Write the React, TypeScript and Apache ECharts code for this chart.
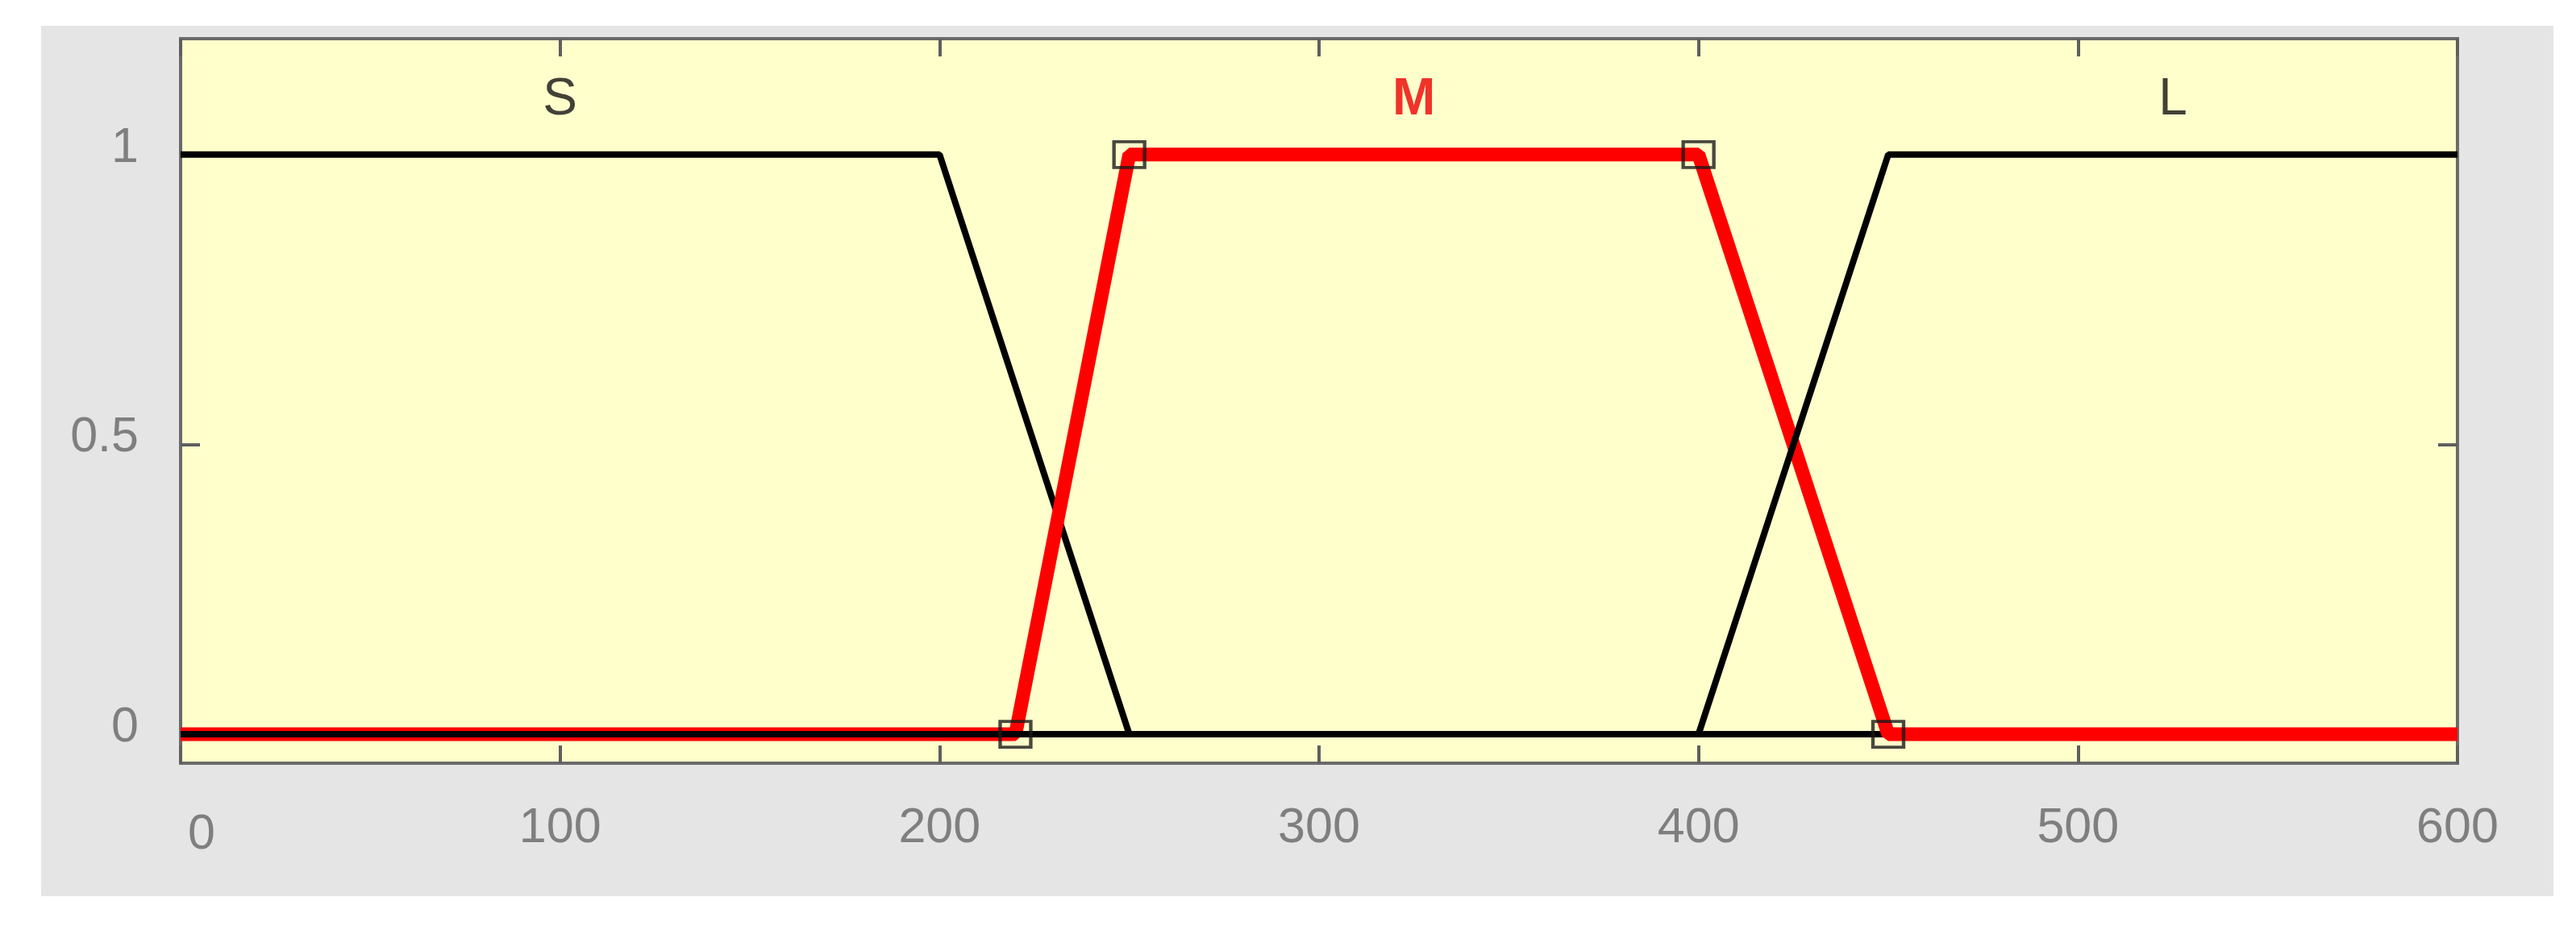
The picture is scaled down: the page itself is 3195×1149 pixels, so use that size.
import React, { useEffect, useRef } from "react";
import * as echarts from "echarts";

// Membership functions (x, membership degree)
const sX = [0, 200, 250, 600];
const sY = [1, 1, 0, 0];
const mX = [0, 220, 250, 400, 450, 600];
const mY = [0, 0, 1, 1, 0, 0];
const lX = [0, 400, 450, 600];
const lY = [0, 0, 1, 1];

const mfNames = ["S", "M", "L"];
const mfLabelX = [100, 325, 525];
const mfLabelY = [1.1, 1.1, 1.1];
const mfLabelColors = ["#111111", "#ee0000", "#111111"];

const yTicks = [0, 0.5, 1];

const W = 3195;
const H = 1149;

const zip = (xs: number[], ys: number[]) => xs.map((x, i) => [x, ys[i]]);

export default function App() {
  const ref = useRef<HTMLDivElement>(null);

  useEffect(() => {
    if (!ref.current) return;
    const chart = echarts.init(ref.current, null, { renderer: "svg", width: W, height: H });
    const font = "'Liberation Sans', Arial, Helvetica, sans-serif";
    const labelColor = "#7f7f7f";
    const tickStyle = { color: "#5f5f5f", width: 4 };

    const mPts = zip(mX, mY);
    const markerPts = mPts.slice(1, mPts.length - 1);

    chart.setOption({
      animation: false,
      backgroundColor: "transparent",
      textStyle: { fontFamily: font },
      grid: {
        left: 224,
        top: 48,
        right: W - 3048,
        bottom: H - 947,
        show: true,
        backgroundColor: "#ffffcc",
        borderColor: "#6a6a6a",
        borderWidth: 4,
        containLabel: false,
      },
      xAxis: [
        {
          type: "value",
          position: "bottom",
          min: 0,
          max: 600,
          interval: 100,
          axisLine: { show: false, onZero: false },
          splitLine: { show: false },
          axisTick: { show: true, inside: true, length: 22, lineStyle: tickStyle },
          axisLabel: {
            show: true,
            margin: 46,
            fontSize: 61,
            lineHeight: 61,
            color: labelColor,
            fontFamily: font,
            showMinLabel: true,
            showMaxLabel: true,
            formatter: (v: number) => (v === 0 ? "{z|0}" : String(v)),
            rich: {
              z: {
                fontSize: 61,
                lineHeight: 61,
                color: labelColor,
                fontFamily: font,
                padding: [16, 0, 0, 52],
              },
            },
          },
        },
        {
          type: "value",
          position: "top",
          min: 0,
          max: 600,
          interval: 100,
          axisLine: { show: false, onZero: false },
          splitLine: { show: false },
          axisTick: { show: true, inside: true, length: 22, lineStyle: tickStyle },
          axisLabel: { show: false },
        },
      ],
      yAxis: [
        {
          type: "value",
          position: "left",
          min: -0.05,
          max: 1.2,
          axisLine: { show: false, onZero: false },
          splitLine: { show: false },
          axisTick: { show: true, inside: true, length: 24, lineStyle: tickStyle, customValues: yTicks },
          axisLabel: {
            show: true,
            customValues: yTicks,
            margin: 52,
            fontSize: 61,
            color: labelColor,
            fontFamily: font,
            formatter: (v: number) => "{a|" + String(v) + "}",
            rich: {
              a: {
                fontSize: 61,
                lineHeight: 61,
                color: labelColor,
                fontFamily: font,
                padding: [0, 0, 24, 0],
              },
            },
          },
        },
        {
          type: "value",
          position: "right",
          min: -0.05,
          max: 1.2,
          axisLine: { show: false, onZero: false },
          splitLine: { show: false },
          axisTick: { show: true, inside: true, length: 24, lineStyle: tickStyle, customValues: yTicks },
          axisLabel: { show: false },
        },
      ],
      series: [
        {
          name: "S",
          type: "line",
          data: zip(sX, sY),
          symbol: "none",
          lineStyle: { color: "#000000", width: 8 },
          z: 2,
        },
        {
          name: "M",
          type: "line",
          data: mPts,
          symbol: "none",
          lineStyle: { color: "#ff0000", width: 17 },
          z: 3,
        },
        {
          name: "L",
          type: "line",
          data: zip(lX, lY),
          symbol: "none",
          lineStyle: { color: "#000000", width: 8 },
          z: 4,
        },
        {
          name: "M points",
          type: "scatter",
          data: markerPts,
          symbol: "rect",
          symbolSize: [38, 32],
          itemStyle: { color: "rgba(0,0,0,0)", borderColor: "#1a1a1a", borderWidth: 4 },
          z: 6,
        },
        {
          name: "MF labels",
          type: "scatter",
          symbolSize: 1,
          itemStyle: { color: "rgba(0,0,0,0)" },
          data: mfNames.map((n, i) => ({
            name: n,
            value: [mfLabelX[i], mfLabelY[i]],
            label: {
              show: true,
              position: "inside",
              formatter: "{b}",
              fontSize: 64,
              fontWeight: n === "M" ? "bold" : "normal",
              color: mfLabelColors[i],
              fontFamily: font,
            },
          })),
          z: 6,
        },
      ],
    });

    return () => chart.dispose();
  }, []);

  return (
    <div style={{ position: "absolute", left: 0, top: 0, width: W, height: H, background: "#ffffff" }}>
      <div
        style={{ position: "absolute", left: 51, top: 32, width: 3167 - 51, height: 1112 - 32, background: "#e5e5e5" }}
      />
      <div ref={ref} style={{ position: "absolute", left: 0, top: 0, width: W, height: H }} />
    </div>
  );
}
